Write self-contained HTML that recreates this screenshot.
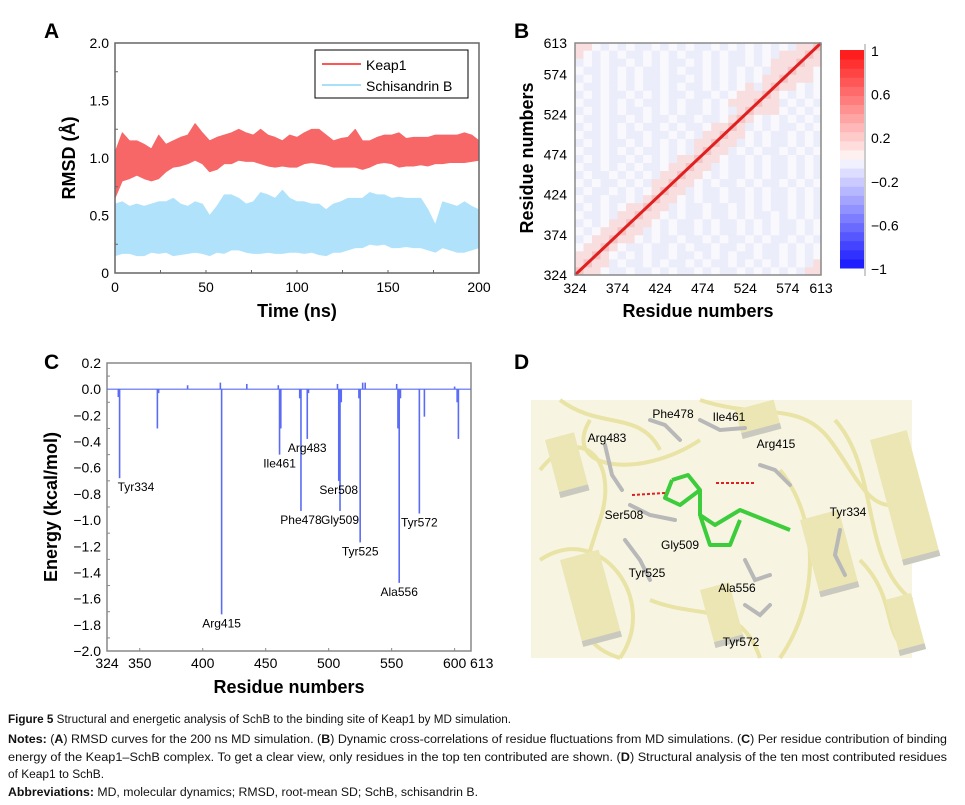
<!DOCTYPE html>
<html><head><meta charset="utf-8"><style>
body{margin:0;background:#fff;}
svg{display:block;font-family:"Liberation Sans",sans-serif;}
</style></head><body>
<svg id="fig" width="965" height="805" viewBox="0 0 965 805" xmlns="http://www.w3.org/2000/svg">
<g id="pA"></g>
<g id="pB"></g>
<g id="pC"></g>
<g id="pD"></g>
<g id="cap" font-size="11.5" fill="#111">
<text x="8" y="723" textLength="503" lengthAdjust="spacingAndGlyphs"><tspan font-weight="bold">Figure 5</tspan> Structural and energetic analysis of SchB to the binding site of Keap1 by MD simulation.</text>
<text x="8" y="743" textLength="939" lengthAdjust="spacingAndGlyphs"><tspan font-weight="bold">Notes:</tspan> (<tspan font-weight="bold">A</tspan>) RMSD curves for the 200 ns MD simulation. (<tspan font-weight="bold">B</tspan>) Dynamic cross-correlations of residue fluctuations from MD simulations. (<tspan font-weight="bold">C</tspan>) Per residue contribution of binding</text>
<text x="8" y="761" textLength="939" lengthAdjust="spacingAndGlyphs">energy of the Keap1–SchB complex. To get a clear view, only residues in the top ten contributed are shown. (<tspan font-weight="bold">D</tspan>) Structural analysis of the ten most contributed residues</text>
<text x="8" y="778" textLength="96" lengthAdjust="spacingAndGlyphs">of Keap1 to SchB.</text>
<text x="8" y="796" textLength="470" lengthAdjust="spacingAndGlyphs"><tspan font-weight="bold">Abbreviations:</tspan> MD, molecular dynamics; RMSD, root-mean SD; SchB, schisandrin B.</text>
</g>
</svg>
<script>
// ---------- Panel A data ----------
const rmsdTimes = [0,4,8,12,16,20,24,28,32,36,40,44,48,52,56,60,64,68,72,76,80,84,88,92,96,100,104,108,112,116,120,124,128,132,136,140,144,148,152,156,160,164,168,172,176,180,184,188,192,196,200];
const keapLo = [.65,.80,.82,.85,.82,.80,.82,.88,.92,.93,.95,.98,.95,.88,.90,.95,.95,.98,.97,.97,.95,.93,.92,.93,.92,.92,.95,.96,.95,.94,.92,.92,.92,.92,.90,.92,.95,.96,.95,.92,.93,.93,.94,.93,.95,.95,.96,.96,.96,.97,.98];
const keapHi = [1.05,1.22,1.15,1.15,1.12,1.08,1.20,1.12,1.15,1.18,1.20,1.30,1.22,1.15,1.18,1.20,1.22,1.25,1.22,1.20,1.25,1.20,1.18,1.15,1.20,1.18,1.22,1.25,1.25,1.20,1.15,1.17,1.18,1.25,1.15,1.15,1.18,1.20,1.20,1.22,1.17,1.18,1.18,1.18,1.20,1.20,1.20,1.20,1.22,1.20,1.15];
const schLo = [.15,.17,.17,.15,.15,.18,.17,.18,.15,.16,.17,.18,.17,.15,.18,.17,.20,.20,.18,.17,.17,.18,.17,.17,.18,.18,.17,.18,.16,.15,.18,.18,.20,.22,.22,.25,.24,.25,.22,.22,.23,.22,.22,.20,.18,.22,.20,.18,.18,.20,.22];
const schHi = [.60,.62,.58,.60,.58,.60,.62,.62,.65,.60,.58,.62,.60,.50,.58,.68,.68,.65,.60,.62,.70,.68,.65,.72,.65,.62,.62,.60,.60,.55,.60,.62,.65,.65,.65,.70,.68,.68,.65,.66,.65,.65,.65,.55,.42,.62,.60,.58,.62,.58,.55];
const aXTicks = [0,50,100,150,200];
const aYTicks = [0,0.5,1.0,1.5,2.0];
const aYLabels = ["0","0.5","1.0","1.5","2.0"];

// ---------- Panel B data ----------
const hmTicks = [324,374,424,474,524,574,613];
const hmRows = [ // bottom (324) to top (613), 10-residue bins
"Rrrwb bwbbw bwbbw bwbbw bwbwb wbrr","rRrrb wbbwb wbbwb wbbwb wbwbw bwbr","rrRrw bwbwb bwbbw bwbwb bwbbw bwbw","wrrRr wbbwb bwbwb bwbbw bwbbw bwbw",
"bwrrR rrwbw bbwbb wbwbb wbwbb wbwb","wbwrr Rrrbw bwbbw bwbbw bwbwb bwbw","bwbwr rRrrw bwbbw bwbbw bwbwb bwbw","wbbwb rrRrr wbwbb wbbwb wbbwb wbwb",
"bwbwb wrrRr rbwbb wbbwb wbwbb wbwb","wbbwb bwbrR rrwbw bbwbb wbwbb wbwb","bwbbw bwbwr Rrrbw bbwbb wbwbb wbwb","wbwbb wbwbr rRrrw bwbbw bwbbw bwbw",
"bwbbw bwbwb rrRrr wbwbb wbwbb wbwb","wbbwb wbwbb wrrRr rbwbb wbwbb wbwb","bwbwb bwbwb wbrrR rrwbb wbwbb wbwb","wbbwb wbwbb wbwbr Rrrbw bwbbw bwbw",
"bwbwb bwbwb wbwbr rRrrb wbwbb wbwb","wbbwb wbbwb bwbwb rrRrr wbwbb wbwb","bwbwb wbwbb wbwbb wrrRr bwbwb bwbw","wbbwb bwbwb bwbbw bbwrR rwbwb wbwb",
"bwbwb wbbwb wbwbb wbwbr Rrrrw bwbw","wbbwb wbwbb wbwbb wbwrr rRrrb wbwb","bwbwb bwbwb wbbwb bwbwr rrRrw bwbw","wbbwb wbwbb wbwbb wbwbw rbrRr rwbw",
"bwbwb wbwbb wbbwb wbwbw bwrrR rrrw","wbbwb wbwbb wbwbb wbwbw bwbrr Rrrw","bwbwb bwbwb wbbwb wbwbb wbwrr rRrr","rwbwb wbbwb wbwbb wbwbb wbwbr rrRr",
"rrwbw bwbbw bwbwb bwbwb wbwbw brrR"];
const hmColors = {w:"#f9f9fd",b:"#ebedfa",r:"#f8dede",R:"#f3c4c4"};
const cbLabels = ["1","0.6","0.2","\u22120.2","\u22120.6","\u22121"];
const cbValues = [1,0.6,0.2,-0.2,-0.6,-1];

// ---------- Panel C data ----------
const resIds = [334,333,364,365,388,415,414,435,460,461,462,477,478,483,484,507,508,509,510,524,525,527,529,554,555,556,557,572,576,600,602,603];
const energies = [-0.68,-0.06,-0.30,-0.03,0.03,-1.72,0.05,0.04,0.03,-0.50,-0.30,-0.07,-0.93,-0.38,-0.03,0.04,-0.70,-0.93,-0.10,-0.07,-1.17,0.05,0.05,0.04,-0.30,-1.48,-0.07,-0.95,-0.21,0.02,-0.10,-0.38];
const labelNames = ["Tyr334","Arg415","Ile461","Phe478","Arg483","Ser508","Gly509","Tyr525","Ala556","Tyr572"];
const labelRes = [334,415,461,478,483,508,509,525,556,572];
const labelE = [-0.68,-1.72,-0.50,-0.93,-0.38,-0.70,-0.93,-1.17,-1.48,-0.95];
const cXTicks = [324,350,400,450,500,550,600,613];
const cYTicks = [0.2,0.0,-0.2,-0.4,-0.6,-0.8,-1.0,-1.2,-1.4,-1.6,-1.8,-2.0];

const NS="http://www.w3.org/2000/svg";
function el(tag,attrs,parent,text){const e=document.createElementNS(NS,tag);for(const k in attrs)e.setAttribute(k,attrs[k]);if(text!==undefined)e.textContent=text;parent.appendChild(e);return e;}
const fmt=v=>(v<0?"\u2212":"")+Math.abs(v).toFixed(1);

// ===== Panel A =====
(function(){
const g=document.getElementById('pA');
const x0=115,x1=479,y0=273,y1=43;
const X=t=>x0+(t/200)*(x1-x0), Y=v=>y0-(v/2)*(y0-y1);
let t=el('text',{x:44,y:38,'font-size':21,'font-weight':'bold'},g,'A');

function band(lo,hi,color,name){
 let pts=rmsdTimes.map((tt,i)=>X(tt)+','+Y(hi[i]));
 for(let i=rmsdTimes.length-1;i>=0;i--)pts.push(X(rmsdTimes[i])+','+Y(lo[i]));
 const p=el('polygon',{points:pts.join(' '),fill:color,stroke:color,'stroke-width':0.8,'stroke-linejoin':'bevel'},g);
 
}
band(schLo,schHi,'#b0e3fb','schisandrin-b-series');
band(keapLo,keapHi,'#f76767','keap1-series');
const fr=el('rect',{x:x0,y:y1,width:x1-x0,height:y0-y1,fill:'none',stroke:'#666','stroke-width':1.5},g);

aXTicks.forEach(v=>{const l=el('text',{x:X(v),y:292,'font-size':14,'text-anchor':'middle'},g,String(v));});
for(let v=25;v<200;v+=25)el('line',{x1:X(v),x2:X(v),y1:y0,y2:y0-3,stroke:'#666'},g);
aYTicks.forEach((v,i)=>{const l=el('text',{x:109,y:Y(v)+5,'font-size':14,'text-anchor':'end'},g,aYLabels[i]);});
for(let v=0.25;v<2;v+=0.5)el('line',{x1:x0,x2:x0+3,y1:Y(v),y2:Y(v),stroke:'#666'},g);
let xt=el('text',{x:297,y:317,'font-size':18,'font-weight':'bold','text-anchor':'middle'},g,'Time (ns)');

let yt=el('text',{x:0,y:0,'font-size':18,'font-weight':'bold','text-anchor':'middle',transform:'translate(75,158) rotate(-90)'},g,'RMSD (Å)');

const lg=el('g',{},g);
el('rect',{x:315,y:50,width:153,height:48,fill:'#fff',stroke:'#000','stroke-width':1},lg);
el('line',{x1:322,x2:361,y1:64,y2:64,stroke:'#f55','stroke-width':2},lg);
el('line',{x1:322,x2:361,y1:85,y2:85,stroke:'#a8e0fa','stroke-width':2},lg);
let k=el('text',{x:366,y:70,'font-size':14},lg,'Keap1');
let s=el('text',{x:366,y:91,'font-size':14},lg,'Schisandrin B');
})();

// ===== Panel B =====
(function(){
const g=document.getElementById('pB');
const x0=575,x1=821,y0=275,y1=43;
const X=r=>x0+(r-324)/(613-324)*(x1-x0), Y=r=>y0-(r-324)/(613-324)*(y0-y1);
let t=el('text',{x:514,y:38,'font-size':21,'font-weight':'bold'},g,'B');

const n=hmRows.length;
hmRows.forEach((row,i)=>{
 const s=row.replace(/ /g,'');
 for(let j=0;j<s.length&&j<n;j++){
  const r0=324+j*10, r1=Math.min(613,r0+10), c0=324+i*10, c1=Math.min(613,c0+10);
  const c=el('rect',{x:X(r0),y:Y(c1),width:X(r1)-X(r0)+0.4,height:Y(c0)-Y(c1)+0.4,fill:hmColors[s[j]]},g);
  
 }
});
const d=el('line',{x1:X(324),y1:Y(324),x2:X(613),y2:Y(613),stroke:'#e02020','stroke-width':3},g);

el('rect',{x:x0,y:y1,width:x1-x0,height:y0-y1,fill:'none',stroke:'#888','stroke-width':1.5},g);
hmTicks.forEach(v=>{
 let a=el('text',{x:X(v),y:293,'font-size':14,'text-anchor':'middle'},g,String(v));
 let b=el('text',{x:567,y:Y(v)+5,'font-size':14,'text-anchor':'end'},g,String(v));
});
let xt=el('text',{x:698,y:317,'font-size':18,'font-weight':'bold','text-anchor':'middle'},g,'Residue numbers');

let yt=el('text',{x:0,y:0,'font-size':18,'font-weight':'bold','text-anchor':'middle',transform:'translate(533,158) rotate(-90)'},g,'Residue numbers');

// colorbar
const cb=el('g',{},g);
const cx=840,cw=24,ct=50,cbot=268,steps=24;
const CY=v=>cbot-(v+1)/2*(cbot-ct);
for(let i=0;i<steps;i++){
 const v=-1+(i+0.5)*2/steps; let col;
 if(v>=0){const f=1-v;col=`rgb(255,${Math.round(20+f*230)},${Math.round(20+f*230)})`;}
 else{const f=1+v;col=`rgb(${Math.round(20+f*230)},${Math.round(20+f*230)},255)`;}
 el('rect',{x:cx,y:CY(-1+(i+1)*2/steps),width:cw,height:(cbot-ct)/steps+0.5,fill:col},cb);
}
el('line',{x1:865,x2:865,y1:44,y2:276,stroke:'#bbb','stroke-width':1.5},cb);
cbValues.forEach((v,i)=>{let l=el('text',{x:871,y:CY(v)+6,'font-size':14},cb,cbLabels[i]);});
})();

// ===== Panel C =====
(function(){
const g=document.getElementById('pC');
const x0=107,x1=471,y0=651,y1=363;
const X=r=>x0+(r-324)/(613-324)*(x1-x0), Y=v=>y1+(0.2-v)/2.2*(y0-y1);
let t=el('text',{x:44,y:369,'font-size':21,'font-weight':'bold'},g,'C');

el('rect',{x:x0,y:y1,width:x1-x0,height:y0-y1,fill:'none',stroke:'#888','stroke-width':1.5},g);
const zl=el('line',{x1:x0,x2:x1,y1:Y(0),y2:Y(0),stroke:'#5a6cf5','stroke-width':1.2},g);

resIds.forEach((r,i)=>{
 const b=el('line',{x1:X(r),x2:X(r),y1:Y(0),y2:Y(energies[i]),stroke:'#5a6cf5','stroke-width':1.6},g);
 
});
labelNames.forEach((nm,i)=>{
 const anchor=i===0?'start':'middle';
 const xx=i===0?X(labelRes[i])-2:X(labelRes[i]);
 const l=el('text',{x:xx,y:Y(labelE[i])+13,'font-size':12,'text-anchor':anchor},g,nm);
 
});
cYTicks.forEach(v=>{
 const l=el('text',{x:101,y:Y(v)+5,'font-size':14,'text-anchor':'end'},g,fmt(v));
 
 el('line',{x1:x0,x2:x0+3,y1:Y(v-0.1),y2:Y(v-0.1),stroke:'#888'},g);
});
cXTicks.forEach((v,i)=>{
 const last=i===cXTicks.length-1;
 const l=el('text',{x:last?X(v)-1:X(v),y:668,'font-size':14,'text-anchor':last?'start':'middle'},g,String(v));
 
 el('line',{x1:X(v),x2:X(v),y1:y0,y2:y0-3,stroke:'#888'},g);
});
let xt=el('text',{x:289,y:693,'font-size':18,'font-weight':'bold','text-anchor':'middle'},g,'Residue numbers');

let yt=el('text',{x:0,y:0,'font-size':18,'font-weight':'bold','text-anchor':'middle',transform:'translate(57,507) rotate(-90)'},g,'Energy (kcal/mol)');

})();

// ===== Panel D (illustrative structure) =====
(function(){
const g=document.getElementById('pD');
let t=el('text',{x:514,y:369,'font-size':21,'font-weight':'bold'},g,'D');

const img=el('g',{},g);
el('rect',{x:531,y:400,width:381,height:258,fill:'#f7f5e2'},img);
const rib=['M540 470 C580 420,620 460,600 520 S560 640,620 658','M560 400 C600 430,640 410,660 450','M700 400 C760 420,800 400,830 440 S870 520,912 500','M835 420 C880 470,860 560,912 600','M540 560 C600 520,660 600,620 658','M780 470 C820 520,820 600,780 658','M860 560 C900 600,880 640,912 650','M650 600 C700 620,740 600,760 658','M590 420 C560 470,640 480,700 440'];
rib.forEach(d=>el('path',{d:d,fill:'none',stroke:'#e9e3a6','stroke-width':4},img));
const sheets=[[545,440,30,60],[560,560,40,90],[870,440,38,130],[800,520,40,80],[700,590,30,60],[735,410,40,30],[885,600,27,58]];
sheets.forEach(s=>{el('rect',{x:s[0],y:s[1],width:s[2],height:s[3],fill:'#ece6b4',transform:`rotate(-15 ${s[0]} ${s[1]})`},img);el('rect',{x:s[0],y:s[1]+s[3]-6,width:s[2],height:6,fill:'#c9c9bf',transform:`rotate(-15 ${s[0]} ${s[1]})`},img);});
const sticks=['M605 445 L612 475 L622 490','M650 420 L665 425 L680 440','M700 420 L720 430 L745 428','M760 465 L775 470 L790 485','M630 505 L650 515 L675 520','M625 540 L640 560 L650 580','M745 560 L755 580 L770 575','M840 530 L835 555 L845 575','M745 605 L760 615 L770 605'];
sticks.forEach(d=>el('path',{d:d,fill:'none',stroke:'#b8b8b8','stroke-width':4,'stroke-linecap':'round'},img));
el('path',{d:'M672 480 L688 475 L700 490 L700 515 L715 525 L740 510 L765 520 L790 530 M700 515 L710 545 L730 545 L740 520 M672 480 L665 498 L680 505 L700 490',fill:'none',stroke:'#3ccc3c','stroke-width':4,'stroke-linejoin':'round'},img);
el('path',{d:'M632 495 L665 493 M716 483 L755 483',fill:'none',stroke:'#e02020','stroke-width':2,'stroke-dasharray':'3 2'},img);
const labs=[['Phe478',673,418],['Ile461',729,421],['Arg483',607,442],['Arg415',776,448],['Ser508',624,519],['Tyr334',848,516],['Gly509',680,549],['Tyr525',647,577],['Ala556',737,592],['Tyr572',741,646]];
labs.forEach(l=>{const tx=el('text',{x:l[1],y:l[2],'font-size':12,'text-anchor':'middle'},img,l[0]);});
})();
</script>
</body></html>
